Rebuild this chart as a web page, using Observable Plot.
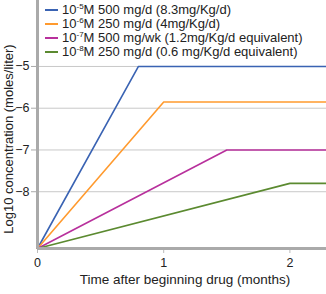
<!DOCTYPE html>
<html>
<head>
<meta charset="utf-8">
<script src="https://cdn.jsdelivr.net/npm/d3@7"></script>
<script src="https://cdn.jsdelivr.net/npm/@observablehq/plot@0.6"></script>
<style>
  html, body { margin: 0; padding: 0; background: #fff; }
  #wrap { position: relative; width: 326px; height: 294px; font-family: "Liberation Sans", Arial, sans-serif; color: #222; }
  #legend { position: absolute; left: 45px; top: 3px; font-size: 13px; line-height: 14px; }
  #legend .row { display: flex; align-items: center; white-space: nowrap; height: 14px; }
  #legend .sw { width: 13px; height: 2px; margin-right: 4px; }
  #legend sup { font-size: 8px; vertical-align: 5px; line-height: 0; }
  .title { position: absolute; white-space: nowrap; font-size: 13px; line-height: 14px; }
  #xtitle { left: 185px; top: 280px; transform: translate(-50%, -50%); font-size: 13.5px; }
  #ytitle { left: 9px; top: 139px; transform: translate(-50%, -50%) rotate(-90deg); }
</style>
</head>
<body>
<div id="wrap"><div id="legend"></div><div class="title" id="xtitle"></div><div class="title" id="ytitle"></div></div>
<script>
// Data
const seriesBase = ["10", "10", "10", "10"];
const seriesExp = ["-5", "-6", "-7", "-8"];
const seriesText = ["M 500 mg/d (8.3mg/Kg/d)", "M 250 mg/d (4mg/Kg/d)", "M 500 mg/wk (1.2mg/Kg/d equivalent)", "M 250 mg/d (0.6 mg/Kg/d equivalent)"];
const colors = ["#3a63b3", "#ff9a2e", "#b8309c", "#5b8a30"];
const startTime = 0;
const startLog = -9.36;
const breakTimes = [0.8, 1.0, 1.5, 2.0];
const plateauLogs = [-5, -5.85, -7.0, -7.8];
const endTime = 2.29;
const xTicks = [0, 1, 2];
const yTicks = [-5, -6, -7, -8];
const xDomain = [0, 2.29];
const yDomain = [-9.36, -3.42];
const xTitle = "Time after beginning drug (months)";
const yTitle = "Log10 concentration (moles/liter)";

const rows = [];
seriesExp.forEach((e, i) => {
  const key = "s" + i;
  rows.push({key, t: startTime, v: startLog});
  rows.push({key, t: breakTimes[i], v: plateauLogs[i]});
  rows.push({key, t: endTime, v: plateauLogs[i]});
});

const chart = Plot.plot({
  width: 326,
  height: 294,
  marginLeft: 37,
  marginRight: 0,
  marginTop: 0,
  marginBottom: 46,
  style: {fontFamily: '"Liberation Sans", Arial, sans-serif', fontSize: "12px", color: "#222", background: "#fff"},
  x: {domain: xDomain},
  y: {domain: yDomain},
  color: {domain: seriesExp.map((e, i) => "s" + i), range: colors},
  marks: [
    Plot.ruleY(yTicks, {stroke: "#c8c8c8", strokeWidth: 1}),
    Plot.axisY(yTicks, {tickSize: 6, stroke: "#aaa", tickPadding: 2, label: null, fill: "#222", fontSize: 12.5}),
    Plot.axisX(xTicks, {tickSize: 5, stroke: "#bbb", tickPadding: 5, tickFormat: d3.format("d"), label: null, fill: "#222", fontSize: 12.5}),
    Plot.line(rows, {x: "t", y: "v", z: "key", stroke: "key", strokeWidth: 1.6}),
    Plot.ruleX([xDomain[0]], {stroke: "#aaa", strokeWidth: 3}),
    Plot.ruleY([yDomain[0]], {stroke: "#aaa", strokeWidth: 3})
  ]
});
document.getElementById("wrap").prepend(chart);

document.getElementById("xtitle").textContent = xTitle;
document.getElementById("ytitle").textContent = yTitle;

const legend = document.getElementById("legend");
seriesExp.forEach((e, i) => {
  const row = document.createElement("div");
  row.className = "row";
  row.innerHTML = `<span class="sw" style="background:${colors[i]}"></span><span>${seriesBase[i]}<sup>${e}</sup>${seriesText[i]}</span>`;
  legend.appendChild(row);
});
</script>
</body>
</html>
